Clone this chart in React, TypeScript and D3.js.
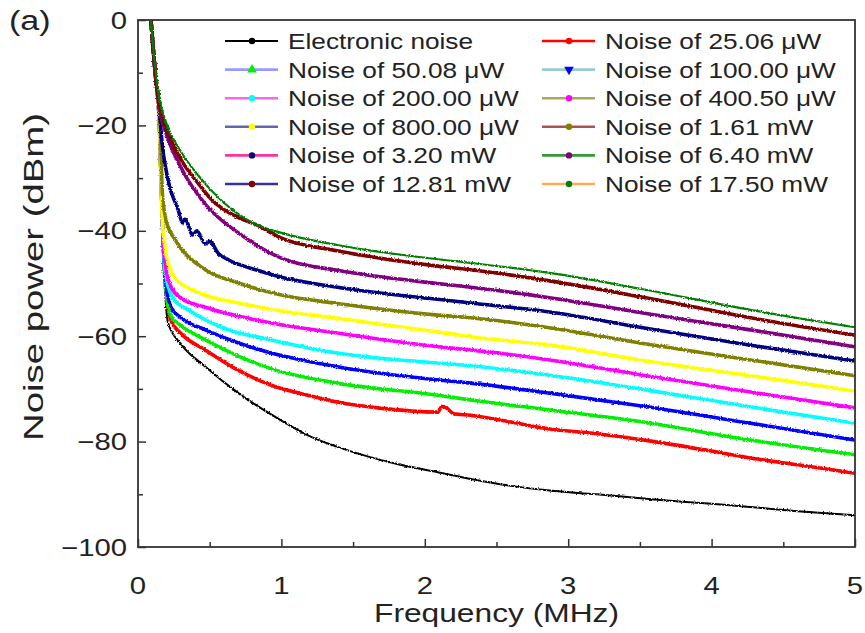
import React, { useEffect, useRef } from "react";
import * as d3 from "d3";

// legend order (row-wise, 2 columns)
const seriesNames = [
  "Electronic noise", "Noise of 25.06 μW",
  "Noise of 50.08 μW", "Noise of 100.00 μW",
  "Noise of 200.00 μW", "Noise of 400.50 μW",
  "Noise of 800.00 μW", "Noise of 1.61 mW",
  "Noise of 3.20 mW", "Noise of 6.40 mW",
  "Noise of 12.81 mW", "Noise of 17.50 mW",
];
const plotColors = [
  "#000000", "#ff0000", "#00ee00", "#0000ff", "#00ffff", "#ff00ff",
  "#ffff00", "#808000", "#000080", "#800080", "#800000", "#008000",
];
const legendLineColors = [
  "#000000", "#ff0000", "#9999ff", "#99cccc", "#ff66dd", "#aaaa55",
  "#6666aa", "#aa5555", "#ff3399", "#339933", "#333399", "#ffaa55",
];
const legendMarkers = ["circle", "circle", "triangle", "triangleDown", "circle", "circle",
  "circle", "circle", "circle", "circle", "circle", "circle"];

// frequency (MHz), power (dBm)
const electronic = [[0.09, 0], [0.12, -10], [0.15, -20], [0.17, -38], [0.19, -52], [0.21, -57.5], [0.3, -61.5], [0.47, -65.8], [0.7, -70.8], [1.0, -76], [1.2, -79], [1.39, -81], [1.6, -82.8], [1.8, -84.2], [2.09, -85.8], [2.32, -87.1], [2.6, -88.4], [2.87, -89.3], [3.2, -90], [3.6, -91], [4.0, -91.8], [4.27, -92.4], [4.6, -93.2], [5.0, -94]];
const p25 = [[0.09, 0], [0.12, -10], [0.15, -20], [0.17, -38], [0.19, -50], [0.23, -57], [0.3, -59.5], [0.47, -62.6], [0.7, -66.5], [0.93, -69.3], [1.2, -71.3], [1.39, -72.5], [1.7, -73.7], [2.09, -74.4], [2.12, -73.3], [2.15, -73.6], [2.2, -74.7], [2.32, -75], [2.6, -76.3], [2.87, -77.6], [3.2, -78.5], [3.6, -80], [4.0, -81.8], [4.27, -83.1], [4.6, -84.4], [5.0, -86]];
const p50 = [[0.09, 0], [0.12, -10], [0.15, -20], [0.17, -38], [0.19, -50], [0.23, -56.2], [0.3, -58], [0.47, -60.7], [0.7, -63.8], [0.93, -66.2], [1.39, -68.9], [2.09, -71.2], [2.32, -72.1], [2.87, -74], [3.5, -76.2], [4.27, -79.7], [5.0, -82.5]];
const p100 = [[0.09, 0], [0.12, -10], [0.15, -20], [0.17, -38], [0.19, -49], [0.23, -54.5], [0.3, -56.5], [0.47, -58.8], [0.7, -61.3], [0.93, -63.2], [1.39, -65.8], [2.09, -68.3], [2.32, -68.9], [2.87, -70.8], [3.5, -73.2], [4.27, -76.5], [5.0, -79.7]];
const p200 = [[0.09, 0], [0.12, -10], [0.15, -20], [0.17, -38], [0.19, -48], [0.25, -53], [0.35, -55], [0.6, -58.5], [0.93, -60.7], [1.39, -63.2], [2.09, -65.1], [2.32, -65.6], [2.87, -67.4], [3.5, -70], [4.27, -73.4], [5.0, -76.5]];
const p400 = [[0.09, 0], [0.12, -10], [0.15, -20], [0.17, -38], [0.18, -44], [0.22, -50], [0.3, -52.8], [0.47, -54.5], [0.93, -57.5], [1.39, -59.4], [2.09, -62], [2.32, -62.6], [2.87, -64.5], [3.5, -67.3], [4.27, -70.6], [5.0, -73.6]];
const p800 = [[0.09, 0], [0.12, -10], [0.15, -20], [0.17, -38], [0.2, -45], [0.26, -49], [0.4, -51.5], [0.7, -53.7], [1.0, -55.2], [1.39, -56.6], [2.09, -59.2], [2.32, -60.1], [2.87, -61.7], [3.5, -64.5], [4.27, -67.5], [5.0, -70.4]];
const p1610 = [[0.09, 0], [0.12, -10], [0.155, -20], [0.17, -33], [0.2, -38.5], [0.26, -41.7], [0.47, -47.4], [0.7, -49.9], [1.0, -52.2], [1.39, -53.8], [2.09, -56], [2.32, -56.5], [2.87, -58.4], [3.5, -61.3], [4.27, -64.5], [5.0, -67.5]];
const p3200 = [[0.09, 0], [0.12, -10], [0.15, -17], [0.16, -20.9], [0.21, -30.4], [0.28, -36], [0.31, -38.5], [0.33, -37.8], [0.38, -40.8], [0.41, -40], [0.47, -42.5], [0.5, -42], [0.56, -44.3], [0.63, -45.5], [0.82, -47.4], [1.0, -48.8], [1.39, -50.7], [2.09, -53], [2.32, -53.7], [2.87, -55.4], [3.5, -58.3], [4.27, -61.7], [5.0, -64.7]];
const p6400 = [[0.09, 0], [0.12, -10], [0.15, -17], [0.19, -21], [0.3, -28], [0.47, -35], [0.7, -40.4], [1.0, -45.2], [1.39, -47.5], [2.09, -50], [2.32, -50.7], [2.87, -52.7], [3.5, -55.5], [4.27, -58.8], [5.0, -62]];
const p12810 = [[0.09, 0], [0.12, -9.5], [0.15, -16], [0.19, -20], [0.3, -26.5], [0.42, -31], [0.51, -34], [0.7, -37.5], [0.82, -38.8], [1.0, -41.4], [1.39, -43.8], [2.09, -46.7], [2.32, -47.4], [2.87, -49.5], [3.5, -52.5], [4.27, -56.5], [5.0, -59.8]];
const p17500 = [[0.09, 0], [0.12, -9], [0.15, -15], [0.19, -19], [0.3, -25], [0.42, -29.5], [0.58, -34.2], [0.8, -38.5], [1.0, -40.4], [1.39, -42.7], [2.09, -45.4], [2.32, -46.1], [2.87, -48], [3.5, -51], [4.27, -55], [5.0, -58.3]];

const allSeries = [electronic, p25, p50, p100, p200, p400, p800, p1610, p3200, p6400, p12810, p17500];
const lineWidths = [2, 3.6, 3.6, 3.6, 3.6, 3.6, 3.6, 3.6, 3.6, 3.6, 3.6, 2.2];

const xTicks = [0, 1, 2, 3, 4, 5];
const xMinorTicks = [0.5, 1.5, 2.5, 3.5, 4.5];
const yTicks = [0, -20, -40, -60, -80, -100];
const yMinorTicks = [-10, -30, -50, -70, -90];

const SX = 1.22; // the figure text is a bit wider than tall

function App() {
  const ref = useRef<SVGSVGElement>(null);

  useEffect(() => {
    const svg = d3.select(ref.current);
    svg.selectAll("*").remove();

    const left = 138, right = 855, top = 20, bottom = 547;
    const x = d3.scaleLinear().domain([0, 5]).range([left, right]);
    const y = d3.scaleLinear().domain([-100, 0]).range([bottom, top]);
    const font = "'Liberation Sans', Arial, sans-serif";

    const defs = svg.append("defs");
    defs.append("clipPath").attr("id", "plotClip")
      .append("rect").attr("x", left).attr("y", top)
      .attr("width", right - left).attr("height", bottom - top);
    const f = defs.append("filter").attr("id", "rough")
      .attr("x", "-2%").attr("y", "-2%").attr("width", "104%").attr("height", "104%");
    f.append("feTurbulence").attr("type", "fractalNoise").attr("baseFrequency", 0.7)
      .attr("numOctaves", 1).attr("seed", 4).attr("result", "noise");
    f.append("feDisplacementMap").attr("in", "SourceGraphic").attr("in2", "noise")
      .attr("scale", 3.2).attr("xChannelSelector", "R").attr("yChannelSelector", "G");

    const line = d3.line<number[]>()
      .x(d => x(d[0]))
      .y(d => y(d[1]))
      .curve(d3.curveMonotoneX);

    const plot = svg.append("g").attr("clip-path", "url(#plotClip)")
      .append("g").attr("filter", "url(#rough)");
    plot.selectAll("path")
      .data(allSeries)
      .enter()
      .append("path")
      .attr("d", d => line(d))
      .attr("fill", "none")
      .attr("stroke", (d, i) => plotColors[i])
      .attr("stroke-width", (d, i) => lineWidths[i])
      .attr("stroke-linejoin", "round");

    // ticks, pointing inward
    const ax = svg.append("g");
    const xb = d3.axisBottom(x).tickValues(xTicks).tickSize(-8).tickFormat(() => "");
    const xbm = d3.axisBottom(x).tickValues(xMinorTicks).tickSize(-5).tickFormat(() => "");
    const yl = d3.axisLeft(y).tickValues(yTicks).tickSize(-8).tickFormat(() => "");
    const ylm = d3.axisLeft(y).tickValues(yMinorTicks).tickSize(-5).tickFormat(() => "");
    [[xb, `translate(0,${bottom})`], [xbm, `translate(0,${bottom})`],
     [yl, `translate(${left},0)`], [ylm, `translate(${left},0)`]].forEach(([a, t]: any) => {
      const g = ax.append("g").attr("transform", t).call(a);
      g.select(".domain").remove();
      g.selectAll("line").attr("stroke", "#333").attr("stroke-width", 1.5);
    });

    svg.append("rect")
      .attr("x", left).attr("y", top)
      .attr("width", right - left).attr("height", bottom - top)
      .attr("fill", "none").attr("stroke", "#333").attr("stroke-width", 1.8);

    const text = (str: string, tx: number, ty: number, size: number, anchor: string, rot = 0, sx = SX) =>
      svg.append("text")
        .attr("transform", `translate(${tx},${ty}) rotate(${rot}) scale(${sx},1)`)
        .attr("text-anchor", anchor)
        .attr("font-family", font)
        .attr("font-size", size)
        .attr("fill", "#222")
        .text(str);

    xTicks.forEach(v => text(String(v), x(v), 594, 24, "middle"));
    yTicks.forEach(v => text(v === 0 ? "0" : "\u2212" + Math.abs(v), 127, y(v) + 8.5, 24, "end"));

    text("Frequency (MHz)", (left + right) / 2, 622, 26, "middle");
    text("Noise power (dBm)", 43, 277, 27, "middle", -90, 1.42);
    text("(a)", 9, 30, 28, "start");

    // legend
    const leg = svg.append("g");
    seriesNames.forEach((name, i) => {
      const col = i % 2, row = Math.floor(i / 2);
      const lx = col === 0 ? 225 : 542;
      const ly = 41 + row * 28.6;
      leg.append("line")
        .attr("x1", lx).attr("x2", lx + 53).attr("y1", ly).attr("y2", ly)
        .attr("stroke", legendLineColors[i]).attr("stroke-width", i === 0 ? 2 : 2.6);
      const mx = lx + 27;
      const shape = legendMarkers[i];
      if (shape === "circle") {
        leg.append("circle").attr("cx", mx).attr("cy", ly).attr("r", 3.2).attr("fill", plotColors[i]);
      } else {
        const sym = d3.symbol().type(d3.symbolTriangle).size(40);
        leg.append("path").attr("d", sym())
          .attr("transform", `translate(${mx},${ly}) rotate(${shape === "triangle" ? 0 : 180})`)
          .attr("fill", plotColors[i]);
      }
      leg.append("text")
        .attr("transform", `translate(${lx + 63},${ly + 8}) scale(${SX},1)`)
        .attr("font-family", font)
        .attr("font-size", 21.5)
        .attr("fill", "#222")
        .text(name);
    });
  }, []);

  return (
    <svg ref={ref} width={865} height={633}
      style={{ position: "absolute", left: 0, top: 0, background: "#fff" }} />
  );
}

export default App;
